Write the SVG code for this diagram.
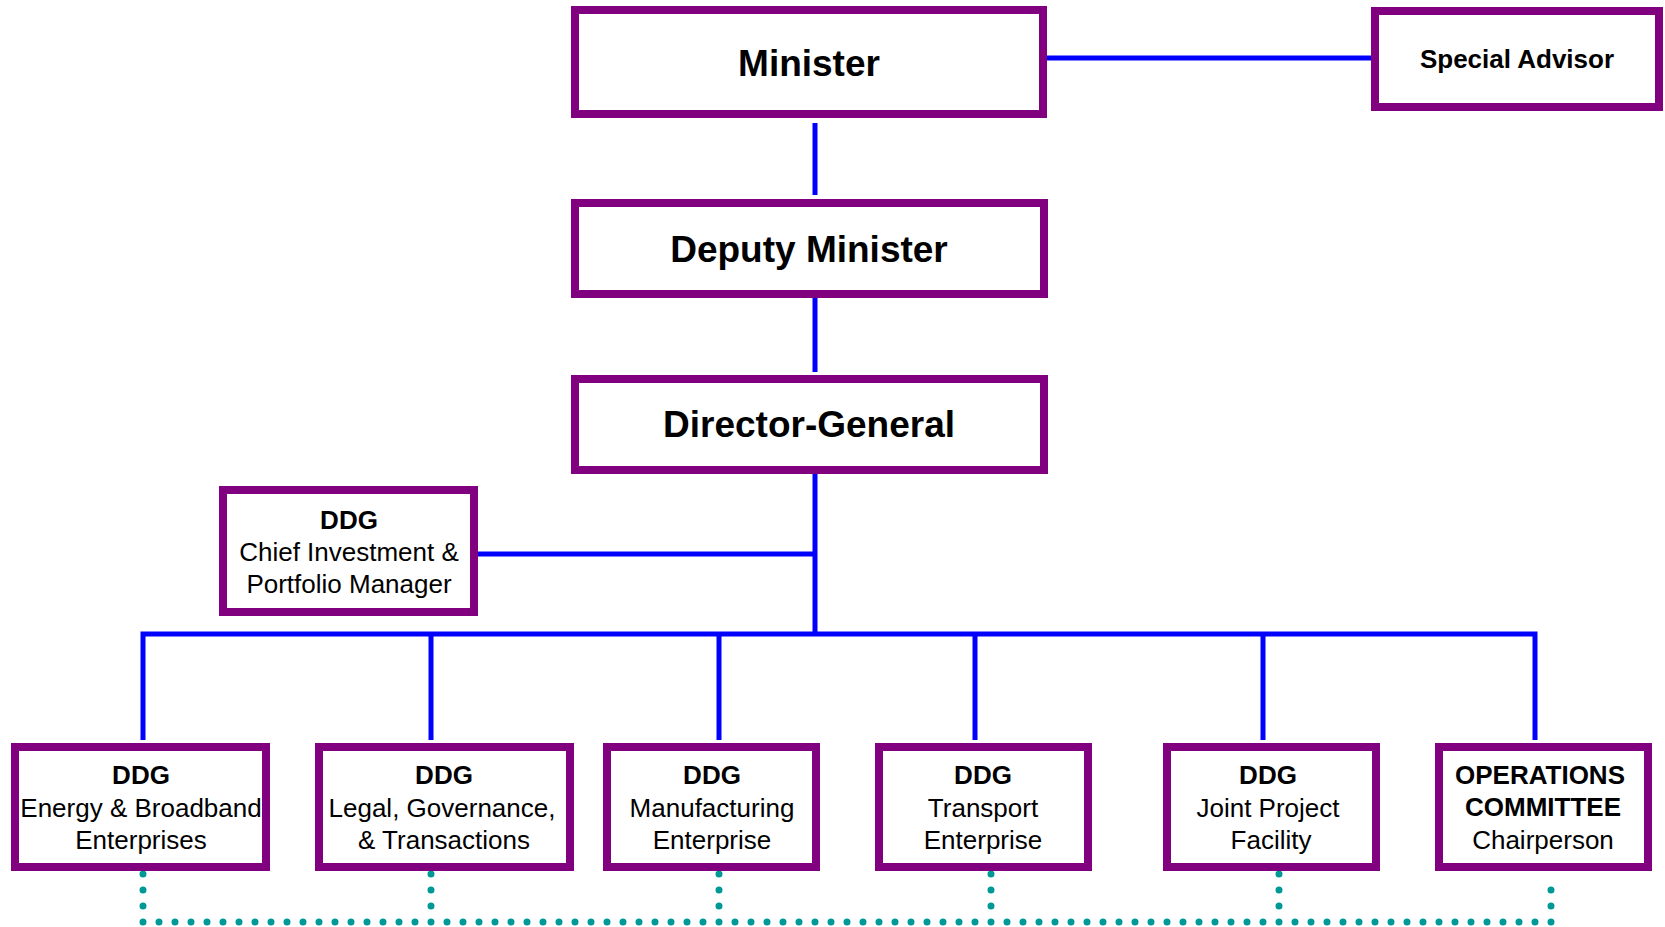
<svg xmlns="http://www.w3.org/2000/svg" width="1665" height="927" viewBox="0 0 1665 927">
<style>
.box{fill:#fff;stroke:#800080;stroke-width:8}
.t{font-family:"Liberation Sans",Arial,sans-serif;fill:#000;text-anchor:middle}
.big{font-size:37px;font-weight:bold}
.mid{font-size:26px;font-weight:bold}
.b{font-size:26px;font-weight:bold}
.n{font-size:26px}
.ln{fill:none;stroke:#0000FF;stroke-width:5}
.dot{fill:none;stroke:#009999;stroke-width:7;stroke-linecap:round;stroke-dasharray:0 16}
</style>
<rect width="1665" height="927" fill="#fff"/>
<g id="connectors">
<path class="ln" d="M1043 58H1375"/>
<path class="ln" d="M815 123V195"/>
<path class="ln" d="M815 298V372"/>
<path class="ln" d="M815 474V634"/>
<path class="ln" d="M478 554H815"/>
<path class="ln" d="M143 740V634H1535V740"/>
<path class="ln" d="M431 634V740"/>
<path class="ln" d="M719 634V740"/>
<path class="ln" d="M975 634V740"/>
<path class="ln" d="M1263 634V740"/>
<path class="dot" d="M143 874V922H1551V874"/>
<path class="dot" d="M431 874V922"/>
<path class="dot" d="M719 874V922"/>
<path class="dot" d="M991 874V922"/>
<path class="dot" d="M1279 874V922"/>
</g>
<g id="minister">
<rect class="box" x="575" y="10" width="468" height="104"/>
<text class="t big" x="809" y="76">Minister</text>
</g>
<g id="special-advisor">
<rect class="box" x="1375" y="11" width="284" height="96"/>
<text class="t mid" x="1517" y="68">Special Advisor</text>
</g>
<g id="deputy-minister">
<rect class="box" x="575" y="203" width="469" height="91"/>
<text class="t big" x="809" y="262">Deputy Minister</text>
</g>
<g id="director-general">
<rect class="box" x="575" y="379" width="469" height="91"/>
<text class="t big" x="809" y="437">Director-General</text>
</g>
<g id="chief-investment">
<rect class="box" x="223" y="490" width="251" height="122"/>
<text class="t b" x="349" y="529">DDG</text>
<text class="t n" x="349" y="561">Chief Investment &amp;</text>
<text class="t n" x="349" y="593">Portfolio Manager</text>
</g>
<g id="energy">
<rect class="box" x="15" y="747" width="251" height="120"/>
<text class="t b" x="141" y="784">DDG</text>
<text class="t n" x="141" y="817">Energy &amp; Broadband</text>
<text class="t n" x="141" y="849">Enterprises</text>
</g>
<g id="legal">
<rect class="box" x="319" y="747" width="251" height="120"/>
<text class="t b" x="444" y="784">DDG</text>
<text class="t n" x="442" y="817">Legal, Governance,</text>
<text class="t n" x="444" y="849">&amp; Transactions</text>
</g>
<g id="manufacturing">
<rect class="box" x="607" y="747" width="209" height="120"/>
<text class="t b" x="712" y="784">DDG</text>
<text class="t n" x="712" y="817">Manufacturing</text>
<text class="t n" x="712" y="849">Enterprise</text>
</g>
<g id="transport">
<rect class="box" x="879" y="747" width="209" height="120"/>
<text class="t b" x="983" y="784">DDG</text>
<text class="t n" x="983" y="817">Transport</text>
<text class="t n" x="983" y="849">Enterprise</text>
</g>
<g id="joint-project">
<rect class="box" x="1167" y="747" width="209" height="120"/>
<text class="t b" x="1268" y="784">DDG</text>
<text class="t n" x="1268" y="817">Joint Project</text>
<text class="t n" x="1271" y="849">Facility</text>
</g>
<g id="operations">
<rect class="box" x="1439" y="747" width="209" height="120"/>
<text class="t b" x="1540" y="784">OPERATIONS</text>
<text class="t b" x="1543" y="816">COMMITTEE</text>
<text class="t n" x="1543" y="849">Chairperson</text>
</g>
</svg>
